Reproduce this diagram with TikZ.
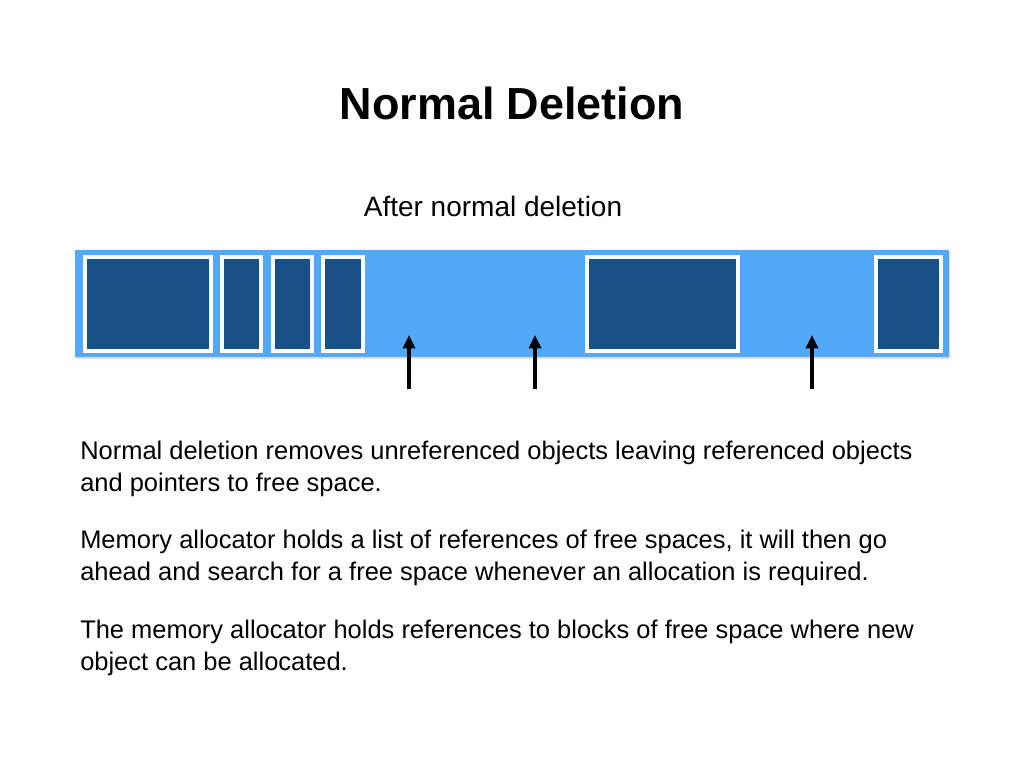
\documentclass[tikz,border=0pt]{standalone}
\usepackage{fontspec}
\setmainfont{Liberation Sans}
\usetikzlibrary{arrows.meta}
\definecolor{barblue}{HTML}{52A8FA}
\definecolor{blockblue}{HTML}{175086}
\begin{document}
\begin{tikzpicture}[x=0.75pt, y=-0.75pt,
    block/.style={fill=blockblue, draw=white, line width=2.6pt},
    ptr/.style={-{Triangle[length=10pt, width=9pt]}, line width=2.6pt},
    body/.style={anchor=west, align=left, inner sep=0pt, font=\fontsize{19.1}{24}\selectfont}]
  \fill[white] (0,0) rectangle (1024,768);
  \useasboundingbox (0,0) rectangle (1024,768);
  % heading
  \node[font=\fontsize{33.7}{40}\bfseries] (title) at (512,103) {Normal Deletion};
  \node[font=\fontsize{21}{24}\selectfont] (caption) at (493,206) {After normal deletion};
  % memory bar with remaining objects
  \fill[gray!25] (76,252) rectangle (950,359);
  \fill[barblue] (75,250) rectangle (949,357);
  \foreach \xa/\xb in {85/211, 222/261, 273/312, 323/363, 587/738, 876/941}
    \filldraw[block] (\xa,257) rectangle (\xb,351);
  % pointers to free space
  \foreach \px [count=\i] in {409, 535, 812} {
    \coordinate (free\i) at (\px,335);
    \coordinate (ref\i) at (\px,389);
    \draw[ptr] (ref\i) -- (free\i);
  }
  % notes
  \node[body] (noteA) at (80,469) {Normal deletion removes unreferenced objects leaving referenced objects\\and pointers to free space.};
  \node[body] (noteB) at (80,558) {Memory allocator holds a list of references of free spaces, it will then go\\ahead and search for a free space whenever an allocation is required.};
  \node[body] (noteC) at (80,648) {The memory allocator holds references to blocks of free space where new\\object can be allocated.};
\end{tikzpicture}
\end{document}
